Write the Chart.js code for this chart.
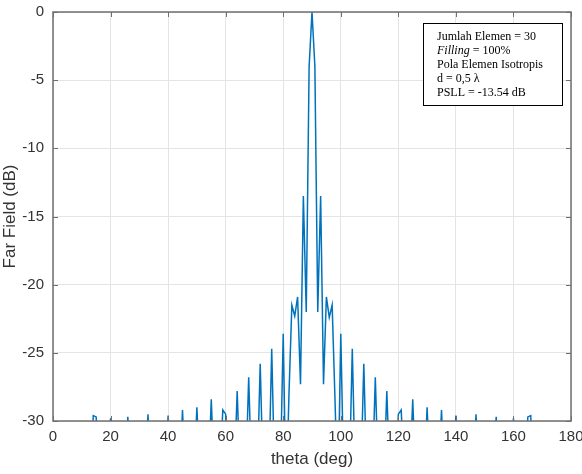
<!DOCTYPE html>
<html>
<head>
<meta charset="utf-8">
<script src="https://cdn.jsdelivr.net/npm/chart.js@4.4.1/dist/chart.umd.min.js"></script>
<style>
  html, body { margin: 0; padding: 0; background: #ffffff; }
  #wrap { width: 582px; height: 474px; }
</style>
</head>
<body>
<div id="wrap"><canvas id="farField" width="582" height="474"></canvas></div>
<script>
// theta samples (deg) and far field (dB), 1 deg steps
const thetaDeg = [
  0, 1, 2, 3, 4, 5, 6, 7, 8, 9, 10, 11, 12, 13, 14, 15, 16, 17, 18, 19,
  20, 21, 22, 23, 24, 25, 26, 27, 28, 29, 30, 31, 32, 33, 34, 35, 36, 37, 38, 39,
  40, 41, 42, 43, 44, 45, 46, 47, 48, 49, 50, 51, 52, 53, 54, 55, 56, 57, 58, 59,
  60, 61, 62, 63, 64, 65, 66, 67, 68, 69, 70, 71, 72, 73, 74, 75, 76, 77, 78, 79,
  80, 81, 82, 83, 84, 85, 86, 87, 88, 89, 90, 91, 92, 93, 94, 95, 96, 97, 98, 99,
  100, 101, 102, 103, 104, 105, 106, 107, 108, 109, 110, 111, 112, 113, 114, 115, 116, 117, 118, 119,
  120, 121, 122, 123, 124, 125, 126, 127, 128, 129, 130, 131, 132, 133, 134, 135, 136, 137, 138, 139,
  140, 141, 142, 143, 144, 145, 146, 147, 148, 149, 150, 151, 152, 153, 154, 155, 156, 157, 158, 159,
  160, 161, 162, 163, 164, 165, 166, 167, 168, 169, 170, 171, 172, 173, 174, 175, 176, 177, 178, 179,
  180
];
// values under -30 are not visible in the reference, they are rough guesses
const farFieldDb = [
  -45, -50, -42, -47, -40, -44, -52, -41, -46, -39, -43, -48, -38, -34, -29.6, -29.7, -34, -40, -45, -35,
  -29.8, -35, -42, -47, -39, -34, -29.7, -34, -41, -48, -44, -39, -34, -29.5, -34, -40, -46, -42, -38, -34,
  -29.6, -34, -39, -44, -34, -29.2, -34, -41, -45, -34, -29.0, -34, -40, -43, -34, -28.4, -34, -42, -34, -29.2,
  -29.5, -35, -41, -34, -27.8, -34, -42, -34, -26.8, -34, -40, -34, -25.8, -34, -42, -34, -24.7, -34, -38, -34,
  -23.6, -36, -28.0, -21.5, -22.3, -20.9, -27.3, -13.5, -22.0, -4.0, 0, -4.0, -22.0, -13.5, -27.3, -20.9, -22.4, -21.5, -28.5, -36,
  -23.6, -34, -38, -34, -24.7, -34, -42, -34, -25.8, -34, -40, -34, -26.8, -34, -42, -34, -27.8, -34, -41, -35,
  -29.5, -29.2, -34, -42, -34, -28.4, -34, -43, -40, -34, -29.0, -34, -45, -41, -34, -29.2, -34, -44, -39, -34,
  -29.6, -34, -38, -42, -46, -40, -34, -29.5, -34, -39, -44, -48, -41, -34, -29.7, -34, -39, -47, -42, -35,
  -29.8, -35, -45, -40, -34, -29.7, -29.6, -34, -38, -48, -43, -39, -46, -41, -52, -44, -40, -47, -42, -50,
  -45
];
const xTickValues = [0, 20, 40, 60, 80, 100, 120, 140, 160, 180];
const yTickValues = [0, -5, -10, -15, -20, -25, -30];
const infoLines = ["Jumlah Elemen = 30", "Filling = 100%", "Pola Elemen Isotropis", "d = 0,5 \u03bb", "PSLL = -13.54 dB"];

const axisColor = "#6f6f6f";
const gridColor = "#e4e4e4";
const textColor = "#333333";

// MATLAB style box with inward tick marks
const boxPlugin = {
  id: "boxPlugin",
  afterDatasetsDraw(chart) {
    const { ctx, chartArea: a, scales } = chart;
    ctx.save();
    ctx.strokeStyle = axisColor;
    ctx.lineWidth = 1.5;
    ctx.strokeRect(a.left, a.top, a.right - a.left, a.bottom - a.top);
    ctx.lineWidth = 1;
    ctx.beginPath();
    xTickValues.forEach(v => {
      const px = Math.round(scales.x.getPixelForValue(v)) + 0.5;
      ctx.moveTo(px, a.top); ctx.lineTo(px, a.top + 5);
      ctx.moveTo(px, a.bottom); ctx.lineTo(px, a.bottom - 5);
    });
    yTickValues.forEach(v => {
      const py = Math.round(scales.y.getPixelForValue(v)) + 0.5;
      ctx.moveTo(a.left, py); ctx.lineTo(a.left + 5, py);
      ctx.moveTo(a.right, py); ctx.lineTo(a.right - 5, py);
    });
    ctx.stroke();
    ctx.restore();
  },
  afterDraw(chart) {
    // text box in the upper right corner
    const { ctx } = chart;
    ctx.save();
    ctx.fillStyle = "#ffffff";
    ctx.fillRect(423.5, 23.5, 139, 82);
    ctx.strokeStyle = "#000000";
    ctx.lineWidth = 1;
    ctx.strokeRect(423.5, 23.5, 139, 82);
    ctx.fillStyle = "#000000";
    ctx.textBaseline = "middle";
    let y = 37;
    infoLines.forEach((line, i) => {
      if (i === 1) {
        ctx.font = "italic 12px 'Liberation Serif'";
        ctx.fillText("Filling", 437, y);
        const w = ctx.measureText("Filling").width;
        ctx.font = "12px 'Liberation Serif'";
        ctx.fillText(" = 100%", 437 + w, y);
      } else {
        ctx.font = "12px 'Liberation Serif'";
        ctx.fillText(line, 437, y);
      }
      y += 14;
    });
    ctx.restore();
  }
};

const ctx = document.getElementById("farField").getContext("2d");
const farFieldChart = new Chart(ctx, {
  type: "line",
  data: {
    datasets: [
      {
        label: "Far Field",
        data: thetaDeg.map((t, i) => ({ x: t, y: farFieldDb[i] })),
        borderColor: "#0072BD",
        borderWidth: 1.5,
        pointRadius: 0,
        tension: 0,
        fill: false,
      },
    ],
  },
  options: {
    responsive: false,
    animation: false,
    layout: { padding: { left: 0, top: 12, right: 11, bottom: 0 } },
    plugins: {
      legend: { display: false },
      tooltip: { enabled: false },
    },
    scales: {
      x: {
        type: "linear",
        min: 0,
        max: 180,
        afterFit(scale) {
          scale.height = 53;
          scale.paddingLeft = 0;
          scale.paddingRight = 0;
        },
        afterBuildTicks(scale) { scale.ticks = xTickValues.map(v => ({ value: v })); },
        grid: { color: gridColor, drawTicks: false },
        border: { display: false },
        ticks: {
          color: textColor,
          padding: 7,
          font: { family: "'Liberation Sans', Arial", size: 15 },
        },
        title: {
          display: true,
          text: "theta (deg)",
          color: textColor,
          padding: { top: 0, bottom: 4 },
          font: { family: "'Liberation Sans', Arial", size: 17 },
        },
      },
      y: {
        type: "linear",
        min: -30,
        max: 0,
        afterFit(scale) {
          scale.width = 53;
          scale.paddingTop = 0;
          scale.paddingBottom = 0;
        },
        afterBuildTicks(scale) { scale.ticks = yTickValues.map(v => ({ value: v })); },
        grid: { color: gridColor, drawTicks: false },
        border: { display: false },
        ticks: {
          color: textColor,
          padding: 9,
          font: { family: "'Liberation Sans', Arial", size: 15 },
        },
        title: {
          display: true,
          text: "Far Field (dB)",
          color: textColor,
          padding: { top: 0, bottom: 0 },
          font: { family: "'Liberation Sans', Arial", size: 17 },
        },
      },
    },
  },
  plugins: [boxPlugin],
});
</script>
</body>
</html>
